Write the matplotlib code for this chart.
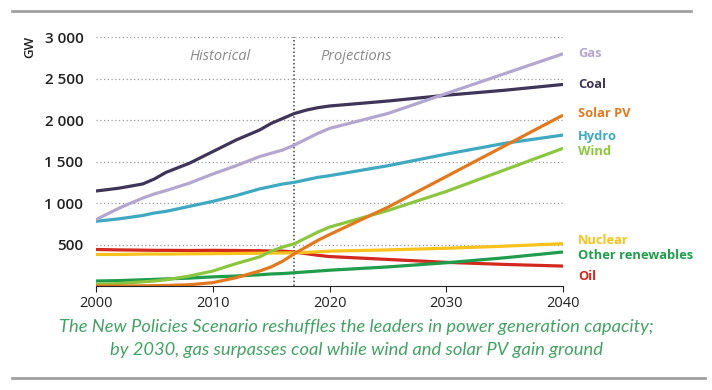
import matplotlib
matplotlib.use("Agg")
from matplotlib import pyplot as plt
from matplotlib.lines import Line2D

years = [2000, 2002, 2004, 2005, 2006, 2008, 2010, 2012, 2014, 2015, 2016, 2017,
         2018, 2019, 2020, 2025, 2030, 2035, 2040]

coal = [1145, 1180, 1230, 1290, 1370, 1480, 1620, 1760, 1880, 1960, 2020, 2080,
        2120, 2150, 2170, 2230, 2300, 2360, 2430]
gas = [800, 940, 1060, 1110, 1150, 1240, 1350, 1450, 1560, 1600, 1640, 1700,
       1770, 1840, 1900, 2080, 2320, 2560, 2800]
hydro = [780, 810, 850, 880, 900, 960, 1020, 1090, 1170, 1200, 1230, 1250,
         1280, 1310, 1330, 1450, 1590, 1720, 1820]
solar = [0, 0, 2, 4, 6, 15, 40, 100, 180, 230, 300, 390,
         470, 550, 620, 950, 1320, 1690, 2060]
wind = [20, 30, 50, 60, 75, 120, 180, 270, 350, 420, 470, 510,
        580, 650, 710, 910, 1140, 1400, 1660]
nuclear = [380, 380, 385, 385, 385, 388, 390, 392, 395, 397, 398, 400,
           405, 412, 420, 435, 455, 480, 510]
oil = [440, 435, 432, 430, 430, 428, 430, 428, 425, 422, 420, 410,
       390, 370, 355, 320, 285, 260, 240]
other = [60, 65, 75, 80, 85, 95, 110, 120, 135, 145, 150, 160,
         170, 180, 190, 230, 280, 340, 410]

series = [
    ("Gas", gas, "#b3a6cf"),
    ("Coal", coal, "#3f3558"),
    ("Solar PV", solar, "#e2791f"),
    ("Hydro", hydro, "#3fa9c2"),
    ("Wind", wind, "#8cc63e"),
    ("Nuclear", nuclear, "#f7c21b"),
    ("Other renewables", other, "#1f9d4c"),
    ("Oil", oil, "#d2281e"),
]
label_y = [2800, 2430, 2080, 1800, 1620, 550, 370, 110]

fig = plt.figure(figsize=(7.12, 3.90), dpi=100)
ax = fig.add_axes([0.1348, 0.2667, 0.656, 0.638])

# draw in an order that keeps the front lines on top
for name, vals, col in series[::-1]:
    ax.plot(years, vals, color=col, lw=2.3, solid_capstyle="butt")

for (name, vals, col), ly in zip(series, label_y):
    ax.text(2041.3, ly, name, color=col, fontsize=9.3, fontweight="bold",
            va="center", ha="left", clip_on=False, family="Open Sans")

ax.set_xlim(2000, 2040)
ax.set_ylim(0, 3000)
ax.set_xticks([2000, 2010, 2020, 2030, 2040])
ax.set_yticks([500, 1000, 1500, 2000, 2500, 3000])
ax.set_yticklabels(["500", "1 000", "1 500", "2 000", "2 500", "3 000"])
for y in [500, 1000, 1500, 2000, 2500, 3000]:
    ax.axhline(y, color="#999999", lw=0.9, ls=(0, (1, 2)), zorder=0)
ax.axvline(2017, color="#444444", lw=1.1, ls=(0, (1, 1.5)), zorder=0)

for s in ["top", "right", "left"]:
    ax.spines[s].set_visible(False)
ax.spines["bottom"].set_color("#222222")
ax.tick_params(axis="y", length=0, labelsize=11, pad=9, colors="#222222")
ax.tick_params(axis="x", length=4, labelsize=10.5, colors="#222222", direction="out")
for lab in ax.get_xticklabels() + ax.get_yticklabels():
    lab.set_family("Open Sans")
for lab in ax.get_yticklabels():
    lab.set_fontweight("semibold")

ax.text(2010.6, 2770, "Historical", color="#8a8a8a", fontsize=10.5, style="italic",
        ha="center", va="center", family="Open Sans")
ax.text(2022.3, 2770, "Projections", color="#8a8a8a", fontsize=10.5, style="italic",
        ha="center", va="center", family="Open Sans")
fig.text(0.042, 0.88, "GW", rotation=90, fontsize=9.5, ha="center", va="center",
         color="#222222", family="Open Sans", fontweight="semibold")

cap = ("The New Policies Scenario reshuffles the leaders in power generation capacity;\n"
       "by 2030, gas surpasses coal while wind and solar PV gain ground")
fig.text(0.5, 0.132, cap, color="#45a265", fontsize=13.2, style="italic",
         ha="center", va="center", linespacing=1.6, family="Lato")

fig.add_artist(Line2D([0.017, 0.97], [0.972, 0.972], color="#a0a0a0", lw=2))
fig.add_artist(Line2D([0.017, 0.99], [0.03, 0.03], color="#a0a0a0", lw=2))

fig.savefig("out.png", dpi=100)
